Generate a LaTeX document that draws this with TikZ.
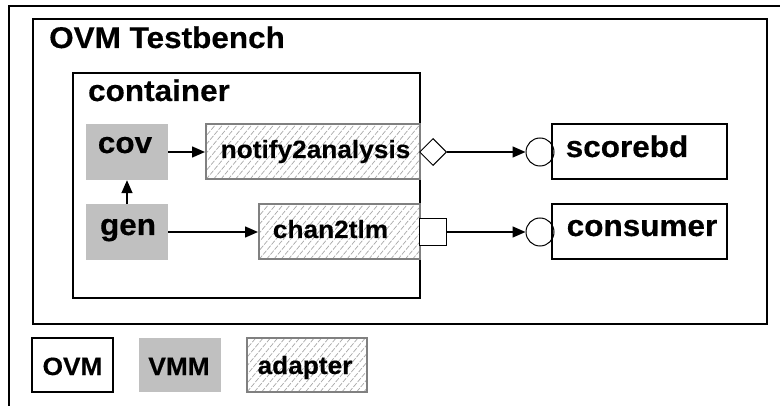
\documentclass[tikz,border=0pt]{standalone}
\usepackage{fontspec}
\setmainfont{Liberation Sans}[FakeStretch=1.05, BoldFeatures={FakeBold=0.4}]
\usetikzlibrary{arrows.meta,shapes.geometric}
\definecolor{vmmgray}{HTML}{C0C0C0}
\definecolor{adgray}{HTML}{808080}
\definecolor{hatchgray}{HTML}{A8A8A8}
\begin{document}
\begin{tikzpicture}[x=1pt,y=-1pt,
  big/.style={font=\fontsize{30}{30}\selectfont\bfseries, inner sep=0pt, anchor=base},
  small/.style={font=\fontsize{25}{25}\selectfont\bfseries, inner sep=0pt, anchor=base},
  ovmbox/.style={draw, line width=2pt, rectangle, inner sep=0pt},
  vmmbox/.style={fill=vmmgray, rectangle, inner sep=0pt},
  adapterbox/.style={draw=adgray, line width=2pt, rectangle, inner sep=0pt,
    path picture={\foreach \i in {-12,...,34}{\draw[hatchgray, line width=0.7pt, dash pattern=on 5pt off 1.5pt]
      ([xshift=\i*7.3pt]path picture bounding box.south west) -- ++(50:100pt);}}},
  port/.style={draw, fill=white, inner sep=0pt, minimum width=27pt, minimum height=27pt},
  conn/.style={line width=1.5pt, -{Triangle[length=13pt,width=11pt]}}
]
\useasboundingbox (0,0) rectangle (780,406);
% outer frame (clipped by page)
\draw[line width=2.6pt] (781,6) -- (9,6) -- (9,407);
% frames
\node[ovmbox, minimum width=734pt, minimum height=305pt] (tb) at (400,171.5) {};
\node[ovmbox, minimum width=347pt, minimum height=225pt] (cont) at (246.5,185.5) {};
\node[big] (tbl) at (167,48) {OVM Testbench};
\node[big] (contl) at (159,101) {container};
% VMM components
\node[vmmbox, minimum width=82pt, minimum height=56pt] (cov) at (127,152) {};
\node[vmmbox, minimum width=82pt, minimum height=56pt] (gen) at (127,232) {};
\node[big] (covl) at (125,153) {cov};
\node[big] (genl) at (128,235) {gen};
% adapters
\node[adapterbox, minimum width=214pt, minimum height=55pt] (notify) at (313,152) {};
\node[adapterbox, minimum width=161pt, minimum height=55pt] (chan) at (339.5,232) {};
\node[small] (notifyl) at (315.5,158) {notify2analysis};
\node[small] (chanl) at (330.5,238) {chan2tlm};
% ports
\node[port, shape=diamond, line width=1pt] (dia) at (433,152) {};
\node[port, rectangle, line width=1.5pt] (sq) at (433,232) {};
\node[port, circle, minimum size=28pt, line width=1pt] (c1) at (540,152) {};
\node[port, circle, minimum size=28pt, line width=1pt] (c2) at (540,232) {};
% OVM components
\node[ovmbox, minimum width=175pt, minimum height=55pt] (sb) at (639.5,151.5) {};
\node[ovmbox, minimum width=175pt, minimum height=55pt] (cons) at (639.5,231.5) {};
\node[big] (sbl) at (627,157) {scorebd};
\node[big] (consl) at (642,236) {consumer};
% connectors
\draw[conn] (cov.east) -- (notify.west);
\draw[conn] (gen.north) -- (cov.south);
\draw[conn] (gen.east) -- (chan.west);
\draw[conn] (dia.east) -- (c1.west);
\draw[conn] (sq.east) -- (c2.west);
% legend
\node[ovmbox, minimum width=81pt, minimum height=54pt] (lovm) at (72.5,365) {};
\node[vmmbox, minimum width=82pt, minimum height=54pt] (lvmm) at (180,365) {};
\node[adapterbox, minimum width=120pt, minimum height=54pt] (lad) at (307,365) {};
\node[small] (lovml) at (72.5,375) {OVM};
\node[small] (lvmml) at (179,375) {VMM};
\node[small] (ladl) at (305,374) {adapter};
\end{tikzpicture}
\end{document}
